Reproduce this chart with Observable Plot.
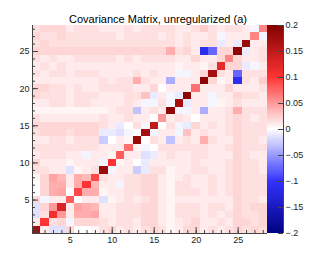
<!DOCTYPE html>
<html><head><meta charset="utf-8">
<script src="https://cdn.jsdelivr.net/npm/d3@7"></script>
<script src="https://cdn.jsdelivr.net/npm/@observablehq/plot@0.6"></script>
<style>
body{margin:0;background:#fff;}
#chart{position:relative;width:315px;height:259px;}
#chart svg{position:absolute;left:0;top:0;}
</style></head><body><div id="chart"></div>
<script>
const title = "Covariance Matrix, unregularized (a)";
const bins = d3.range(1, 29);
const xTicks = [5, 10, 15, 20, 25];
const yTicks = [5, 10, 15, 20, 25];
const colorTicks = [-0.2, -0.15, -0.1, -0.05, 0, 0.05, 0.1, 0.15, 0.2];
const colorTickLabels = ["\u2212.2", "\u2212.15", "\u2212.1", "\u2212.05", "0", "0.05", "0.1", "0.15", "0.2"];
// upper triangle incl. diagonal: upper[i] = values for row i+1, cols i+1..28
const upper = [
  [.17, .01, -.015, -.015, .02, 0, 0, .005, .015, .02, .01, .015, .01, .015, .02, .015, .005, .01, .02, .02, .01, .015, .01, .015, .02, .015, .02, .015],
  [.10, .015, .02, -.005, .02, .02, .02, .015, .01, .015, .015, .01, .02, .02, .01, .005, .01, .015, .02, .01, .01, .015, .01, .02, .02, .015, .02],
  [.11, .05, .01, .04, .04, .045, .01, .01, .015, .015, .015, .02, .02, .01, .005, .015, .015, .015, .01, .015, .01, .015, .02, .015, .015, .02],
  [.13, .01, .045, .04, .035, .01, .01, .015, .015, .015, .02, .02, .01, .005, .015, .015, .015, .01, .015, .015, .01, .02, .015, .02, .02],
  [.08, 0, .01, .01, -.015, .005, .01, .015, .01, .015, .02, .01, .005, .01, .01, .01, .01, .01, .01, .01, .02, .015, .015, .01],
  [.09, .04, .04, .005, .01, .01, .015, .015, .02, .02, .01, .005, .015, .015, .015, .01, .015, .01, .015, .02, .015, .015, .015],
  [.10, .035, .01, .01, -.005, .015, .015, .02, .02, .01, .005, .015, .015, .01, .01, .015, .01, .015, .02, .015, .015, .015],
  [.09, .015, .01, .01, .015, .015, .02, .02, .01, .005, .01, .015, .01, .01, .015, .01, .015, .02, .015, .015, .015],
  [.18, -.005, .01, .01, -.025, -.01, .015, .015, .005, .01, .01, .015, .015, .01, .01, .015, .02, .015, .015, .01],
  [.10, .005, .01, 0, -.01, .01, .01, .01, .01, .01, .015, .01, .01, .01, .015, .02, .015, .015, .01],
  [.08, .01, .01, -.015, -.01, .01, .015, .01, .01, .015, .015, .01, .01, .01, .02, .015, .01, .01],
  [.07, .005, -.005, 0, .015, .015, .015, .015, .015, .015, .01, .01, .015, .02, .015, .015, .015],
  [.18, 0, .015, .01, -.03, .01, .015, .01, .04, .015, .01, .01, .02, .015, .015, .01],
  [.17, -.005, .01, .01, -.005, .03, .01, .015, .01, .01, .015, .02, .015, .015, .015],
  [.15, 0, .015, -.005, -.01, .02, .01, .015, .01, .015, .02, .015, .015, .015],
  [.05, .01, .015, .01, 0, .01, .01, .01, .015, .02, .015, .01, .015],
  [.19, -.005, -.005, .01, -.04, .01, .01, .015, .04, .015, .015, .015],
  [.17, -.01, .01, .01, -.005, .005, .01, .015, .01, .01, .01],
  [.19, .01, .01, -.005, .01, .01, .02, .015, .015, .01],
  [.07, .01, .01, .01, .02, .01, .01, .01, .015],
  [.19, .02, .005, .01, -.11, .015, .01, .025],
  [.17, .015, .01, -.075, .015, .015, .015],
  [.12, .02, .02, -.01, -.005, .01],
  [.06, .02, .01, .01, .015],
  [.19, -.01, .01, .015],
  [.18, .01, .01],
  [.06, -.005],
  [.06]
];

const cells = [];
upper.forEach((rowVals, i) => {
  const r = i + 1;
  rowVals.forEach((v, k) => {
    const c = r + k;
    cells.push({col: c, row: r, v});
    if (c !== r) cells.push({col: r, row: c, v});
  });
});

const font = "'Liberation Sans', Arial, Helvetica, sans-serif";
const colorScale = {type: "linear", domain: [-0.2, -0.1, 0, 0.1, 0.2],
  range: ["#000080", "#3333ff", "#ffffff", "#ff3333", "#800000"], clamp: true};
const axisColor = "#444";

const main = Plot.plot({
  width: 315, height: 259,
  marginLeft: 32, marginRight: 48, marginTop: 25, marginBottom: 26,
  style: {fontFamily: font, fontSize: "9px", background: "white", color: "#222", overflow: "visible"},
  x: {domain: [0.5, 28.5], ticks: xTicks, tickSize: 0, tickPadding: 3, label: null},
  y: {domain: [0.5, 28.5], ticks: yTicks, tickSize: 0, tickPadding: 3, label: null},
  color: colorScale,
  marks: [
    Plot.rect(cells, {x1: d => d.col - 0.5, x2: d => d.col + 0.5, y1: d => d.row - 0.5, y2: d => d.row + 0.5,
      fill: "v", shapeRendering: "crispEdges"}),
    Plot.tickX(bins, {x: d => d, insetTop: 205, stroke: axisColor}),
    Plot.tickX(xTicks, {x: d => d, insetTop: 202, stroke: axisColor}),
    Plot.tickY(bins, {y: d => d, insetRight: 232, stroke: axisColor}),
    Plot.tickY(yTicks, {y: d => d, insetRight: 229, stroke: axisColor}),
    Plot.ruleX([0.5], {stroke: axisColor}),
    Plot.ruleY([0.5], {stroke: axisColor}),
    Plot.text([title], {frameAnchor: "top", lineAnchor: "bottom", dy: -2.5, dx: 8, fontSize: 11, fill: "#000"})
  ]
});

const barSteps = d3.range(0, 200).map(i => -0.2 + i * 0.002);
const bar = Plot.plot({
  width: 315, height: 259,
  marginLeft: 267, marginRight: 32, marginTop: 25, marginBottom: 26,
  style: {fontFamily: font, fontSize: "9px", background: "transparent", color: "#222", overflow: "visible"},
  x: {domain: [0, 1], axis: null},
  y: {domain: [-0.2, 0.2], axis: null},
  color: colorScale,
  marks: [
    Plot.rect(barSteps, {x1: 0, x2: 1, y1: d => d, y2: d => d + 0.002, fill: d => d + 0.001, shapeRendering: "crispEdges"}),
    Plot.tickY(colorTicks, {y: d => d, insetLeft: 11, stroke: axisColor}),
    Plot.ruleX([1], {stroke: axisColor}),
    Plot.text(colorTicks, {y: d => d, x: 1, text: (d, i) => colorTickLabels[i], textAnchor: "start", dx: 2, fill: "#222"})
  ]
});

document.getElementById("chart").append(main, bar);
</script></body></html>
